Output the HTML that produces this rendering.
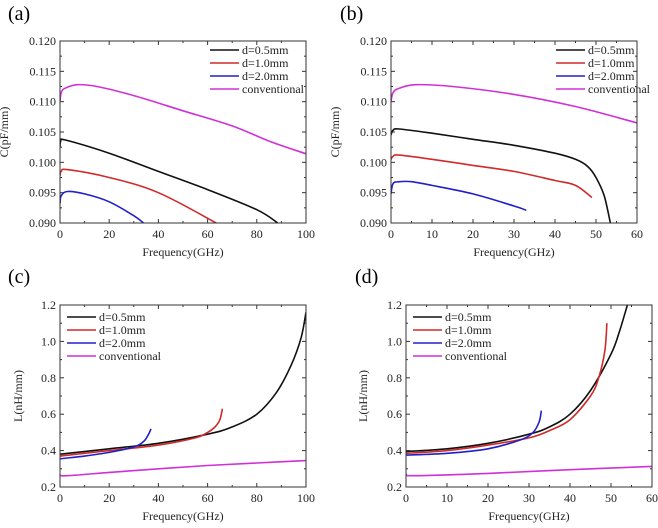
<!DOCTYPE html>
<html><head><meta charset="utf-8"><style>
body{margin:0;background:#fff}
svg{display:block;font-family:"Liberation Serif",serif}
</style></head><body>
<svg id="fig" width="658" height="528" viewBox="0 0 658 528"></svg>
<script>
const colors={black:'#111',red:'#d02a2a',blue:'#2020c8',conv:'#d030d8'};
const legendNames=['d=0.5mm','d=1.0mm','d=2.0mm','conventional'];
const aBlack=[[0,0.1025],[0.3,0.1035],[2,0.1037],[20,0.1015],[40,0.0985],[60,0.0955],[80,0.0922],[88.5,0.090]];
const aRed=[[0,0.0978],[0.5,0.0985],[3,0.0988],[20,0.0975],[40,0.095],[63.5,0.090]];
const aBlue=[[0,0.0932],[0.5,0.0945],[3,0.0952],[10,0.0948],[20,0.0935],[30,0.0912],[34,0.090]];
const aConv=[[0,0.110],[0.5,0.1115],[2,0.1122],[7,0.1128],[15,0.1125],[30,0.111],[50,0.1085],[70,0.106],[85,0.1035],[100,0.1014]];
const bBlack=[[0,0.1045],[0.5,0.1053],[2,0.1055],[10,0.1048],[20,0.1038],[30,0.1028],[40,0.1015],[45,0.1005],[48,0.0993],[50,0.0975],[52,0.0945],[53.5,0.090]];
const bRed=[[0,0.1005],[0.5,0.101],[2,0.1012],[10,0.1005],[20,0.0995],[30,0.0985],[40,0.097],[45,0.0962],[49,0.0942]];
const bBlue=[[0,0.0948],[0.5,0.0965],[2,0.0968],[5,0.0968],[10,0.0962],[20,0.0948],[30,0.0928],[33,0.0921]];
const bConv=[[0,0.110],[0.5,0.1115],[2,0.1122],[6,0.1128],[15,0.1125],[30,0.1112],[45,0.1092],[60,0.1065]];
const cBlack=[[0,0.38],[20,0.41],[40,0.44],[60,0.49],[70,0.53],[80,0.6],[88,0.72],[94,0.87],[98,1.02],[100,1.16]];
const cRed=[[0,0.37],[20,0.4],[40,0.43],[55,0.47],[60,0.5],[63,0.53],[65,0.57],[66,0.63]];
const cBlue=[[0,0.355],[10,0.37],[20,0.39],[30,0.42],[34,0.45],[36,0.49],[37,0.52]];
const cConv=[[0,0.265],[3,0.262],[20,0.28],[40,0.3],[60,0.318],[80,0.332],[100,0.345]];
const dBlack=[[0,0.395],[10,0.41],[20,0.44],[30,0.49],[35,0.53],[40,0.6],[45,0.73],[50,0.93],[52,1.05],[54,1.2]];
const dRed=[[0,0.385],[10,0.4],[20,0.43],[30,0.47],[35,0.51],[40,0.57],[45,0.7],[47,0.8],[48.5,0.95],[49,1.1]];
const dBlue=[[0,0.375],[10,0.385],[20,0.41],[28,0.46],[31,0.5],[32.5,0.56],[33,0.62]];
const dConv=[[0,0.27],[2,0.262],[20,0.275],[40,0.295],[60,0.313]];
const cTicks=['0.090','0.095','0.100','0.105','0.110','0.115','0.120'];
const lTicks=['0.2','0.4','0.6','0.8','1.0','1.2'];
const x100=['0','20','40','60','80','100'];
const x60=['0','10','20','30','40','50','60'];

const NS='http://www.w3.org/2000/svg';
const svg=document.getElementById('fig');
function mk(tag,attrs,parent,txt){const e=document.createElementNS(NS,tag);for(const k in attrs)e.setAttribute(k,attrs[k]);if(txt!==undefined)e.textContent=txt;(parent||svg).appendChild(e);return e;}
function smooth(pts){
  let d='M'+pts[0][0].toFixed(1)+','+pts[0][1].toFixed(1);
  for(let i=0;i<pts.length-1;i++){
    const p0=pts[Math.max(0,i-1)],p1=pts[i],p2=pts[i+1],p3=pts[Math.min(pts.length-1,i+2)];
    const c1=[p1[0]+(p2[0]-p0[0])/6,p1[1]+(p2[1]-p0[1])/6];
    const c2=[p2[0]-(p3[0]-p1[0])/6,p2[1]-(p3[1]-p1[1])/6];
    d+='C'+c1.map(v=>v.toFixed(1)).join(',')+' '+c2.map(v=>v.toFixed(1)).join(',')+' '+p2.map(v=>v.toFixed(1)).join(',');
  }
  return d;
}
function panel(p){
  const g=mk('g',{});
  
  
  const {x0,x1,y0,y1,xmin,xmax,ymin,ymax}=p;
  const sx=v=>x0+(v-xmin)/(xmax-xmin)*(x1-x0);
  const sy=v=>y1-(v-ymin)/(ymax-ymin)*(y1-y0);
  const lab=mk('text',{x:p.lx,y:p.ly,'font-size':20},g,'('+p.id+')');
  
  
  const xt=p.xticks.map(Number);
  xt.forEach((v,i)=>{
    mk('line',{x1:sx(v),x2:sx(v),y1:y1,y2:y1-4,stroke:'#333'},g);
    mk('line',{x1:sx(v),x2:sx(v),y1:y0,y2:y0+4,stroke:'#333'},g);
    const t=mk('text',{x:sx(v),y:y1+15,'font-size':12,'text-anchor':'middle',fill:'#222'},g,p.xticks[i]);
    
    
    if(i<xt.length-1){const m=(v+xt[i+1])/2;
      mk('line',{x1:sx(m),x2:sx(m),y1:y1,y2:y1-2,stroke:'#333'},g);
      mk('line',{x1:sx(m),x2:sx(m),y1:y0,y2:y0+2,stroke:'#333'},g);}
  });
  const yt=p.yticks.map(Number);
  yt.forEach((v,i)=>{
    mk('line',{x1:x0,x2:x0+4,y1:sy(v),y2:sy(v),stroke:'#333'},g);
    mk('line',{x1:x1,x2:x1-4,y1:sy(v),y2:sy(v),stroke:'#333'},g);
    const t=mk('text',{x:x0-4,y:sy(v)+4,'font-size':12,'text-anchor':'end',fill:'#222'},g,p.yticks[i]);
    
    
    if(i<yt.length-1){const m=(v+yt[i+1])/2;
      mk('line',{x1:x0,x2:x0+2,y1:sy(m),y2:sy(m),stroke:'#333'},g);
      mk('line',{x1:x1,x2:x1-2,y1:sy(m),y2:sy(m),stroke:'#333'},g);}
  });
  const xl=mk('text',{x:(x0+x1)/2,y:y1+33,'font-size':12,'text-anchor':'middle',fill:'#222'},g,'Frequency(GHz)');
  
  
  const yl=mk('text',{x:0,y:0,'font-size':12,'text-anchor':'middle',fill:'#222',transform:`translate(${p.ytx},${(y0+y1)/2}) rotate(-90)`},g,p.ytitle);
  
  
  mk('clipPath',{id:'clip'+p.id},g);
  mk('rect',{x:x0,y:y0,width:x1-x0,height:y1-y0},g.lastChild);
  const keys=['black','red','blue','conv'];
  p.series.forEach((s,i)=>{
    const d=smooth(s.map(pt=>[sx(pt[0]),sy(pt[1])]));
    const path=mk('path',{d,fill:'none',stroke:colors[keys[i]],'stroke-width':1.6,'stroke-linejoin':'round','clip-path':`url(#clip${p.id})`},g);
    
    
    const ly=p.legY+i*13;
    const ll=mk('line',{x1:p.legX,x2:p.legX+29,y1:ly,y2:ly,stroke:colors[keys[i]],'stroke-width':1.6},g);
    
    
    const lt=mk('text',{x:p.legX+32,y:ly+4,'font-size':12,fill:'#222'},g,legendNames[i]);
    
    
  });
  mk('rect',{x:x0,y:y0,width:x1-x0,height:y1-y0,fill:'none',stroke:'#333','stroke-width':1},g);
}
panel({id:'a',x0:60,x1:306,y0:41,y1:223,xmin:0,xmax:100,ymin:0.09,ymax:0.12,xticks:x100,yticks:cTicks,ytitle:'C(pF/mm)',ytx:8,lx:8,ly:20,legX:210,legY:50,series:[aBlack,aRed,aBlue,aConv]});
panel({id:'b',x0:391,x1:637,y0:41,y1:223,xmin:0,xmax:60,ymin:0.09,ymax:0.12,xticks:x60,yticks:cTicks,ytitle:'C(pF/mm)',ytx:339,lx:340,ly:20,legX:556,legY:50,series:[bBlack,bRed,bBlue,bConv]});
panel({id:'c',x0:60,x1:306,y0:305,y1:487,xmin:0,xmax:100,ymin:0.2,ymax:1.2,xticks:x100,yticks:lTicks,ytitle:'L(nH/mm)',ytx:22,lx:8,ly:283,legX:67,legY:317,series:[cBlack,cRed,cBlue,cConv]});
panel({id:'d',x0:406,x1:652,y0:305,y1:487,xmin:0,xmax:60,ymin:0.2,ymax:1.2,xticks:x60,yticks:lTicks,ytitle:'L(nH/mm)',ytx:367,lx:355,ly:283,legX:413,legY:317,series:[dBlack,dRed,dBlue,dConv]});
</script>
</body></html>
